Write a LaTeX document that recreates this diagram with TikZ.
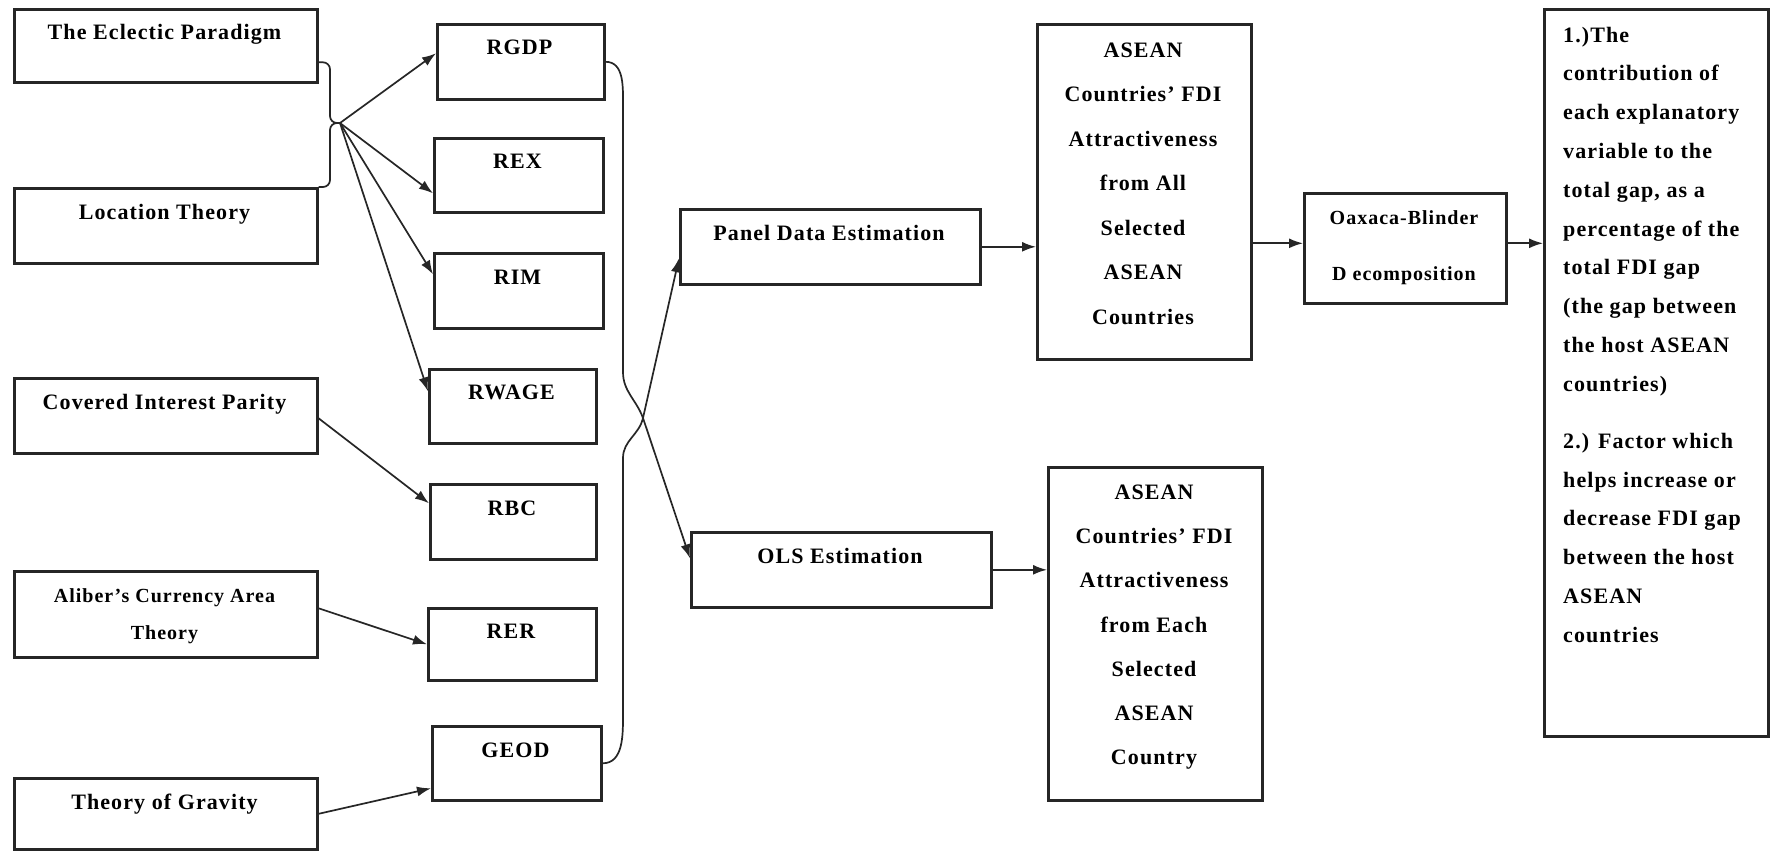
\documentclass[tikz,border=0pt]{standalone}
\usepackage{fontspec}
\setmainfont{Liberation Serif}[LetterSpace=5]
\usepackage{tikz}
\usetikzlibrary{arrows.meta, positioning}
\definecolor{Frame_Black}{HTML}{262626}

\begin{document}
\begin{tikzpicture}[x=1pt, y=1pt,
    box/.style={draw=Frame_Black, line width=2.6pt, anchor=north west, inner sep=0pt},
    txt/.style={inner sep=0pt, anchor=base, font=\fontsize{22}{26}\selectfont\bfseries},
    arr/.style={draw=Frame_Black, line width=1.7pt, -{Latex[length=14pt, width=10pt]}},
    bus/.style={draw=Frame_Black, line width=1.7pt}]
    \fill[white] (0,0) rectangle (1770,-851);
    % theories (left column)
    \node[box, minimum width=303, minimum height=73] (ecl) at (13,-8) {};
    \node[txt] (eclT) at (164.5,-40) {The Eclectic Paradigm};
    \node[box, minimum width=303, minimum height=75] (loc) at (13,-187) {};
    \node[txt] (locT) at (164.5,-219) {Location Theory};
    \node[box, minimum width=303, minimum height=75] (cov) at (13,-377) {};
    \node[txt] (covT) at (164.5,-409) {Covered Interest Parity};
    \node[box, minimum width=303, minimum height=86] (alb) at (13,-570) {};
    \node[txt, anchor=north, align=center, font=\fontsize{20}{37}\selectfont\bfseries] (albT) at (164.5,-588) {Aliber's Currency Area\\Theory};
    \node[box, minimum width=303, minimum height=71] (grav) at (13,-777) {};
    \node[txt] (gravT) at (164.5,-809) {Theory of Gravity};
    % variables
    \node[box, minimum width=167, minimum height=75] (rgdp) at (436,-23) {};
    \node[txt] (rgdpT) at (519.5,-55) {RGDP};
    \node[box, minimum width=169, minimum height=74] (rex) at (433,-137) {};
    \node[txt] (rexT) at (517.5,-168) {REX};
    \node[box, minimum width=169, minimum height=75] (rim) at (433,-252) {};
    \node[txt] (rimT) at (517.5,-284) {RIM};
    \node[box, minimum width=167, minimum height=74] (rwage) at (428,-368) {};
    \node[txt] (rwageT) at (511.5,-399) {RWAGE};
    \node[box, minimum width=166, minimum height=75] (rbc) at (429,-483) {};
    \node[txt] (rbcT) at (512,-515) {RBC};
    \node[box, minimum width=168, minimum height=72] (rer) at (427,-607) {};
    \node[txt] (rerT) at (511,-638) {RER};
    \node[box, minimum width=169, minimum height=74] (geod) at (431,-725) {};
    \node[txt] (geodT) at (515.5,-757) {GEOD};
    % estimations
    \node[box, minimum width=300, minimum height=75] (panel) at (679,-208) {};
    \node[txt] (panelT) at (829,-240) {Panel Data Estimation};
    \node[box, minimum width=300, minimum height=75] (ols) at (690,-531) {};
    \node[txt] (olsT) at (840,-563) {OLS Estimation};
    % results
    \node[box, minimum width=214, minimum height=335] (as1) at (1036,-23) {};
    \node[txt, anchor=north, align=center, font=\fontsize{22}{44.5}\selectfont\bfseries] (as1T) at (1143,-42.4)
        {ASEAN\\Countries' FDI\\Attractiveness\\from All\\Selected\\ASEAN\\Countries};
    \node[box, minimum width=214, minimum height=333] (as2) at (1047,-466) {};
    \node[txt, anchor=north, align=center, font=\fontsize{22}{44.3}\selectfont\bfseries] (as2T) at (1154,-484.4)
        {ASEAN\\Countries' FDI\\Attractiveness\\from Each\\Selected\\ASEAN\\Country};
    \node[box, minimum width=202, minimum height=110] (oax) at (1303,-192) {};
    \node[txt, anchor=north, align=center, font=\fontsize{20}{56}\selectfont\bfseries] (oaxT) at (1404,-210)
        {Oaxaca-Blinder\\D ecomposition};
    \node[box, minimum width=224, minimum height=727] (res) at (1543,-8) {};
    \node[txt, anchor=north west, align=left, font=\fontsize{22}{38.8}\selectfont\bfseries] (resT) at (1563,-26.7)
        {1.)The\\contribution of\\each explanatory\\variable to the\\total gap, as a\\percentage of the\\total FDI gap\\(the gap between\\the host ASEAN\\countries)\\[18.2pt]
         2.) Factor which\\helps increase or\\decrease FDI gap\\between the host\\ASEAN\\countries};
    % bracket joining the first two theories
    \coordinate (jn) at (340,-123);
    \draw[bus, rounded corners=7pt] ([yshift=-16.5pt]ecl.east) -| ([xshift=-10pt]jn) -- (jn);
    \draw[bus, rounded corners=7pt] (loc.north east) -| ([xshift=-10pt]jn) -- (jn);
    \draw[arr] (jn) -- ([yshift=8.5pt]rgdp.west);
    \draw[arr] (jn) -- ([yshift=-18pt]rex.west);
    \draw[arr] (jn) -- ([yshift=16.5pt]rim.west);
    \draw[arr] (jn) -- ([yshift=15pt]rwage.west);
    % other theories
    \draw[arr] ([yshift=-2.5pt]cov.east) -- ([yshift=18.5pt]rbc.west);
    \draw[arr] ([yshift=6pt]alb.east) -- (rer.west);
    \draw[arr] (grav.east) -- ([yshift=-25pt]geod.west);
    % curved bus from the variables to the estimations
    \coordinate (mp) at (643,-418);
    \coordinate (busA) at (623,-107);
    \coordinate (busB) at (623,-372);
    \coordinate (busC) at (623,-458);
    \coordinate (busD) at (623,-714);
    \draw[arr] (rgdp.east) to[out=0, in=90] (busA) -- (busB) to[out=-90, in=110] (mp) -- ([yshift=11.5pt]ols.west);
    \draw[arr] (geod.east) to[out=0, in=-90] (busD) -- (busC) to[out=90, in=-103] (mp) -- ([yshift=-11.5pt]panel.west);
    % flow to the results
    \draw[arr] (panel.east) -- (panel.east -| as1.west);
    \draw[arr] (ols.east) -- (ols.east -| as2.west);
    \draw[arr] ([yshift=5pt]oax.west -| as1.east) -- ([yshift=5pt]oax.west);
    \draw[arr] ([yshift=5pt]oax.east) -- ([yshift=5pt]oax.east -| res.west);
\end{tikzpicture}
\end{document}
